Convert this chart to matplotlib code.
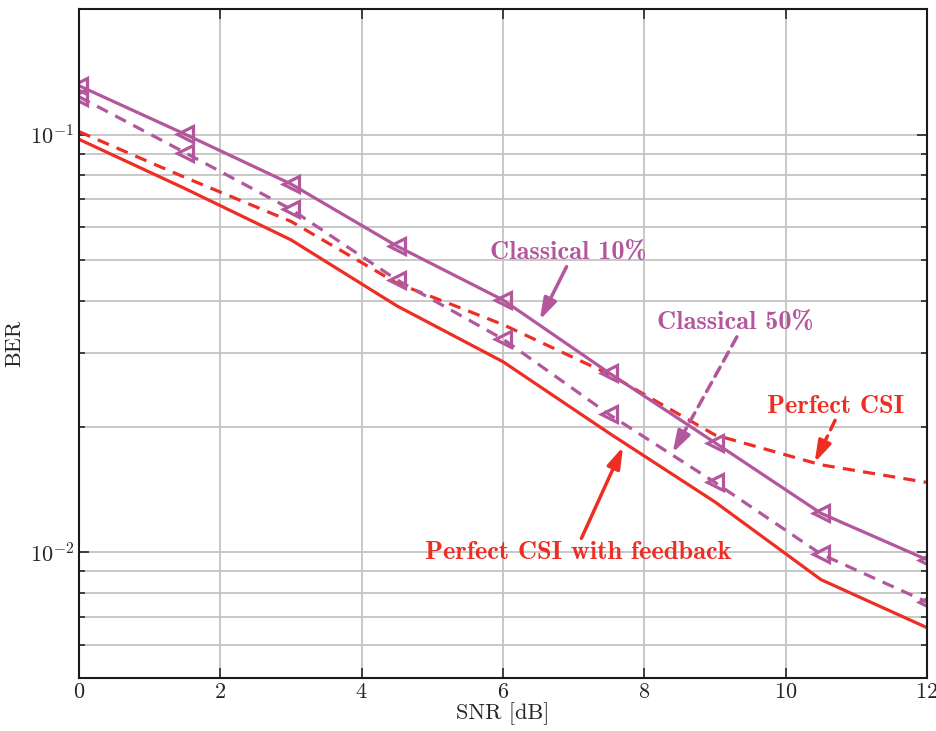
import numpy as np
import matplotlib
matplotlib.use('Agg')
import matplotlib.pyplot as plt
from matplotlib.ticker import LogLocator, NullFormatter, MultipleLocator

# ==========================================
# Data
# ==========================================
snr_db = [0, 1.5, 3, 4.5, 6, 7.5, 9, 10.5, 12]
ber_classical_10 = [0.131, 0.1003, 0.0762, 0.0541, 0.0402, 0.0269, 0.0183, 0.0124, 0.0096]
ber_classical_50 = [0.1233, 0.0906, 0.0663, 0.0449, 0.0324, 0.0214, 0.0147, 0.0099, 0.0076]
ber_perfect_csi = [0.1017, 0.0790, 0.0620, 0.0441, 0.0351, 0.0267, 0.0191, 0.0162, 0.0147]
ber_perfect_fb = [0.0975, 0.0743, 0.0560, 0.0389, 0.0286, 0.0193, 0.0132, 0.0086, 0.0066]

RED = '#EE2E24'
PURPLE = '#B3579D'
TXT = '#262626'

plt.rcParams['mathtext.fontset'] = 'cm'
plt.rcParams['font.family'] = 'serif'
plt.rcParams['font.serif'] = ['cmr10', 'DejaVu Serif']
plt.rcParams['axes.formatter.use_mathtext'] = True
plt.rcParams['font.size'] = 16

fig = plt.figure(figsize=(9.37, 7.31), dpi=100)
ax = fig.add_axes([0.0843, 0.0725, 0.9050, 0.9152])

dash = (0, (3.8, 2.6))
ax.semilogy(snr_db, ber_perfect_fb, '-', color=RED, lw=2.3)
ax.semilogy(snr_db, ber_perfect_csi, linestyle=dash, color=RED, lw=2.3)
ax.semilogy(snr_db, ber_classical_10, '-', color=PURPLE, lw=2.3,
            marker='<', ms=12, mfc='none', mew=2.3, mec=PURPLE)
ax.semilogy(snr_db, ber_classical_50, linestyle=dash, color=PURPLE, lw=2.3,
            marker='<', ms=12, mfc='none', mew=2.3, mec=PURPLE)

ax.set_xlim(0, 12)
ax.set_ylim(0.005, 0.2)
ax.xaxis.set_major_locator(MultipleLocator(2))
ax.yaxis.set_major_locator(LogLocator(base=10, numticks=10))
ax.yaxis.set_minor_locator(LogLocator(base=10, subs=np.arange(2, 10), numticks=20))
ax.yaxis.set_minor_formatter(NullFormatter())

ax.grid(True, which='major', axis='x', color='#c4c4c4', lw=1.3)
ax.grid(True, which='both', axis='y', color='#c4c4c4', lw=1.3)
ax.set_axisbelow(True)
ax.tick_params(which='both', direction='in', top=True, right=True, colors=TXT,
               labelsize=16, width=1.2)
ax.tick_params(which='major', length=7)
ax.tick_params(which='minor', length=4)
for s in ax.spines.values():
    s.set_linewidth(1.5)
    s.set_color('#1a1a1a')

ax.set_xlabel('SNR [dB]', fontsize=16, color=TXT, labelpad=0)
ax.set_ylabel('BER', fontsize=16, color=TXT, labelpad=4)


# ==========================================
# Annotations
# ==========================================
def arrow(tail, tip, color, ls='-'):
    ax.annotate('', xy=tip, xytext=tail,
                arrowprops=dict(arrowstyle='-', color=color, lw=2.5, linestyle=ls,
                                shrinkA=0, shrinkB=5))
    p_tail = ax.transData.transform(tail)
    p_tip = ax.transData.transform(tip)
    d = (p_tail - p_tip) / np.hypot(*(p_tail - p_tip))
    back = ax.transData.inverted().transform(p_tip + d * 16)
    ax.annotate('', xy=tip, xytext=back,
                arrowprops=dict(arrowstyle='-|>,head_length=0.8,head_width=0.25',
                                color=color, lw=2.5, shrinkA=0, shrinkB=0))


bold = dict(fontfamily='cmb10', fontsize=19, ha='center', va='center')
ax.text(6.92, 0.0521, 'Classical 10%', color=PURPLE, **bold)
arrow((6.90, 0.0483), (6.52, 0.0360), PURPLE)

ax.text(9.29, 0.0354, 'Classical 50%', color=PURPLE, **bold)
arrow((9.31, 0.0328), (8.40, 0.0173), PURPLE, ls=(0, (3, 2)))

ax.text(10.70, 0.0224, 'Perfect CSI', color=RED, **bold)
arrow((10.70, 0.0207), (10.41, 0.0164), RED, ls=(0, (3, 2)))

ax.text(7.07, 0.00998, 'Perfect CSI with feedback', color=RED, **bold)
arrow((7.11, 0.0108), (7.70, 0.0179), RED)

fig.savefig('out.png', dpi=100)
